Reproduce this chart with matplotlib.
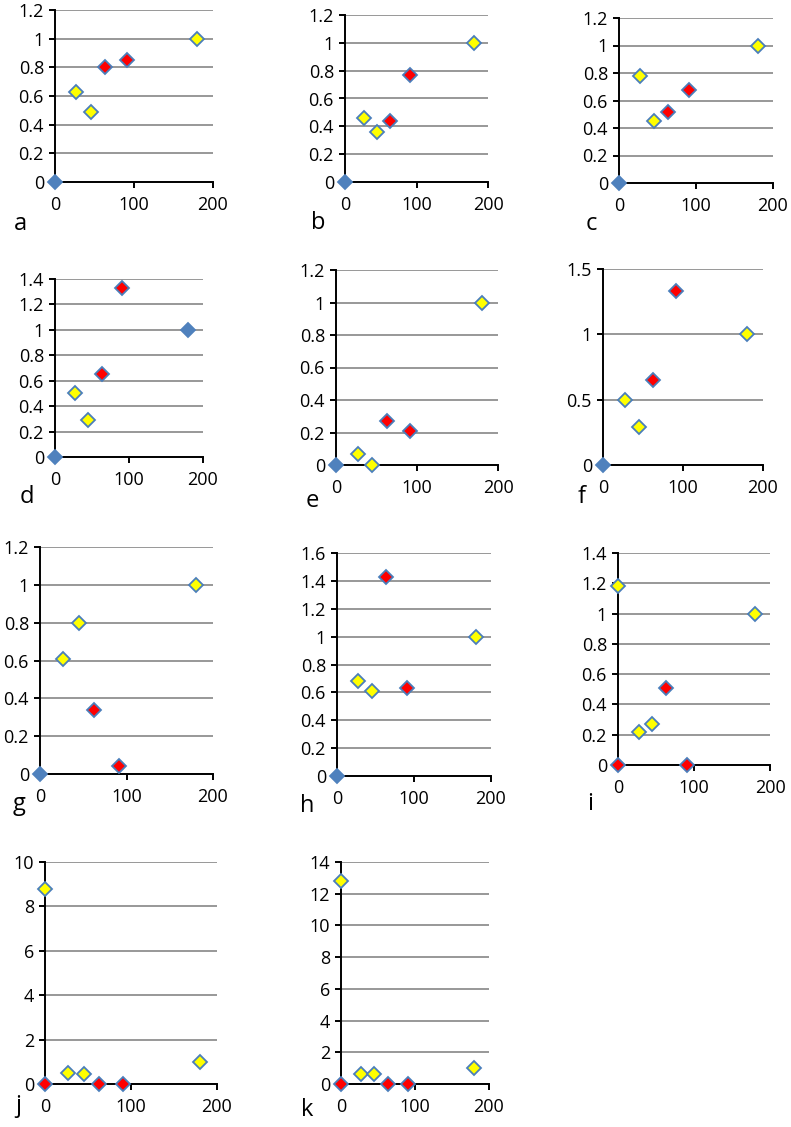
import matplotlib
matplotlib.use('Agg')
import matplotlib.pyplot as plt

plt.rcParams['font.family'] = ['Open Sans', 'DejaVu Sans']

# sampling days and marker kinds shared by most panels
days = [0, 27, 45, 63, 91, 180]
kinds = ['blue', 'yellow', 'yellow', 'red', 'red', 'yellow']
kinds_d = ['blue', 'yellow', 'yellow', 'red', 'red', 'blue']
# panels i, j, k have two points at day 0
days_ijk = [0, 0, 27, 45, 63, 91, 180]
kinds_ijk = ['yellow', 'red', 'yellow', 'yellow', 'red', 'red', 'yellow']

a_vals = [0, 0.63, 0.49, 0.80, 0.85, 1.0]
b_vals = [0, 0.46, 0.36, 0.44, 0.77, 1.0]
c_vals = [0, 0.78, 0.45, 0.52, 0.68, 1.0]
d_vals = [0, 0.50, 0.29, 0.65, 1.33, 1.0]
e_vals = [0, 0.07, 0.0, 0.27, 0.21, 1.0]
f_vals = [0, 0.50, 0.29, 0.65, 1.33, 1.0]
g_vals = [0, 0.61, 0.80, 0.34, 0.04, 1.0]
h_vals = [0, 0.68, 0.61, 1.43, 0.63, 1.0]
i_vals = [1.18, 0, 0.22, 0.27, 0.51, 0.0, 1.0]
j_vals = [8.8, 0, 0.5, 0.45, 0, 0, 1.0]
k_vals = [12.8, 0, 0.65, 0.6, 0, 0, 1.0]

x_ticks = [0, 100, 200]

fills = {'blue': '#4f81bd', 'yellow': '#ffff00', 'red': '#ff0000'}
edges = {'blue': '#4f81bd', 'yellow': '#4a7ebb', 'red': '#4a7ebb'}

W, H = 791, 1127
fig = plt.figure(figsize=(W / 100, H / 100), dpi=100)

# label, x, y, kinds, ymax, ystep, box (left, right, top, bottom px), letter pos
panels = [
    ('a', days, a_vals, kinds, 1.2, 0.2, (55, 213, 10, 182), (20, 224)),
    ('b', days, b_vals, kinds, 1.2, 0.2, (345, 488, 15, 182), (318, 223)),
    ('c', days, c_vals, kinds, 1.2, 0.2, (619, 773, 18, 183), (591, 224)),
    ('d', days, d_vals, kinds_d, 1.4, 0.2, (55, 203, 279, 457), (27, 497)),
    ('e', days, e_vals, kinds, 1.2, 0.2, (336, 498, 270, 465), (312, 501)),
    ('f', days, f_vals, kinds, 1.5, 0.5, (603, 763, 269, 465), (582, 497)),
    ('g', days, g_vals, kinds, 1.2, 0.2, (40, 213, 547, 774), (19, 804)),
    ('h', days, h_vals, kinds, 1.6, 0.2, (337, 491, 553, 776), (307, 806)),
    ('i', days_ijk, i_vals, kinds_ijk, 1.4, 0.2, (618, 770, 553, 765), (590, 804)),
    ('j', days_ijk, j_vals, kinds_ijk, 10, 2, (45, 217, 862, 1084), (18, 1106)),
    ('k', days_ijk, k_vals, kinds_ijk, 14, 2, (341, 489, 862, 1084), (307, 1110)),
]

for name, xs, ys, ks, ymax, ystep, box, lpos in panels:
    l, r, t, b = box
    ax = fig.add_axes([l / W, 1 - b / H, (r - l) / W, (b - t) / H])
    n = int(round(ymax / ystep))
    yt = [round(i * ystep, 2) for i in range(n + 1)]
    ax.set_xlim(0, 200)
    ax.set_ylim(0, ymax)
    ax.set_xticks(x_ticks)
    ax.set_yticks(yt)
    ax.set_yticklabels(['{:g}'.format(v) for v in yt])
    ax.yaxis.grid(True, color='#868686', linewidth=1.2)
    ax.set_axisbelow(True)
    for s in ['top', 'right']:
        ax.spines[s].set_visible(False)
    for s in ['left', 'bottom']:
        ax.spines[s].set_linewidth(1.4)
        ax.spines[s].set_color('black')
    ax.tick_params(direction='out', length=4, width=1.4, labelsize=13, pad=4)
    ax.tick_params(axis='x', pad=6)
    for x, y, k in zip(xs, ys, ks):
        ax.plot(x, y, marker='D', markersize=6.8, markerfacecolor=fills[k],
                markeredgecolor=edges[k], markeredgewidth=1.3, linestyle='none',
                clip_on=False, zorder=5)
    fig.text(lpos[0] / W, 1 - lpos[1] / H, name, fontsize=17,
             ha='center', va='center')

fig.savefig('out.png', dpi=100)
